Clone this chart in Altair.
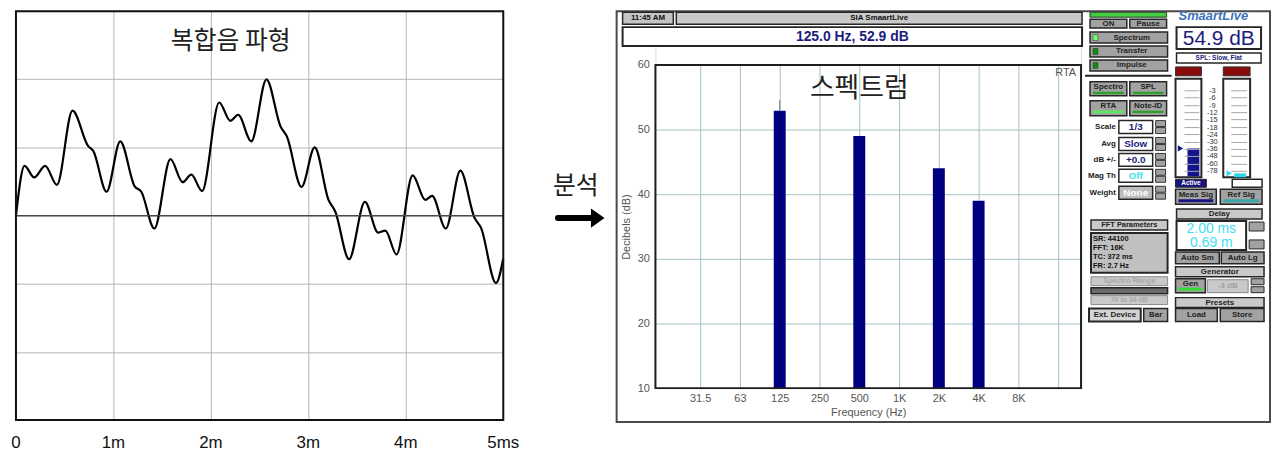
import json
import pandas as pd
import altair as alt

# ---------------- chart data ----------------
# composite waveform (time in ms, amplitude in grid divisions)
wave_t = [0.0, 0.088, 0.187, 0.30, 0.42, 0.58, 0.741, 0.793, 0.93, 1.07, 1.218, 1.286,
          1.42, 1.585, 1.71, 1.80, 1.91, 2.085, 2.20, 2.28, 2.415, 2.57, 2.714, 2.78,
          2.93, 3.065, 3.207, 3.276, 3.418, 3.58, 3.717, 3.79, 3.905, 4.07, 4.20, 4.27,
          4.41, 4.56, 4.704, 4.772, 4.925, 5.0]
wave_v = [0.0, 0.73, 0.56, 0.73, 0.45, 1.54, 1.02, 0.95, 0.35, 1.09, 0.43, 0.35,
          -0.19, 0.83, 0.49, 0.60, 0.36, 1.66, 1.39, 1.48, 1.09, 2.0, 1.31, 1.16,
          0.42, 1.0, 0.23, 0.06, -0.64, 0.20, -0.25, -0.22, -0.57, 0.59, 0.23, 0.29,
          -0.19, 0.66, -0.03, -0.18, -0.99, -0.63]
time_ticks = [0, 1, 2, 3, 4, 5]
time_labels = ["0", "1m", "2m", "3m", "4m", "5ms"]
amp_grid = [-2, -1, 0, 1, 2]

# spectrum (octave bands)
band_labels = ["31.5", "63", "125", "250", "500", "1K", "2K", "4K", "8K", ""]
bar_bands = ["125", "500", "2K", "4K"]
bar_db = [52.9, 49.0, 44.0, 39.0]
peak_band = "125"
peak_db = 54.6
db_ticks = [10, 20, 30, 40, 50, 60]

# meter scale of the SmaartLive panel
meter_labels = ["-3", "-6", "-9", "-12", "-15", "-18", "-24", "-30", "-36", "-48", "-60", "-78"]

KFONT = "Noto Sans CJK KR"
AFONT = "Liberation Sans"

# ---------------- left: waveform ----------------
W1, H1 = 490, 411
wave_df = pd.DataFrame({"t": wave_t, "v": wave_v})
t_expr = json.dumps(time_labels) + "[datum.value]"

xw = alt.X("t:Q", scale=alt.Scale(domain=[0, 5], nice=False, zero=False),
           axis=alt.Axis(values=[1, 2, 3, 4], title=None, ticks=False, domain=False, labels=False,
                         grid=True, gridColor="#b4b4b4", gridWidth=1))
yw = alt.Y("v:Q", scale=alt.Scale(domain=[-3, 3], nice=False, zero=False),
           axis=alt.Axis(values=amp_grid, title=None, ticks=False, domain=False, labels=False,
                         grid=True, gridColor="#b4b4b4", gridWidth=1))

wave_line = alt.Chart(wave_df).mark_line(color="black", strokeWidth=2.2, interpolate="monotone").encode(x=xw, y=yw)

zero_df = pd.DataFrame({"v": [0]})
zero_rule = alt.Chart(zero_df).mark_rule(color="#4a4a4a", strokeWidth=1.4).encode(y="v:Q")

tick_df = pd.DataFrame({"t": time_ticks, "lab": time_labels})
tick_labels = alt.Chart(tick_df).mark_text(font=AFONT, fontSize=17, color="#111", baseline="middle").encode(
    x="t:Q", y=alt.value(H1 + 23), text="lab:N")

frame1 = alt.Chart(pd.DataFrame({"a": [0]})).mark_rect(fill="transparent", stroke="#111", strokeWidth=2).encode(
    x=alt.value(0), x2=alt.value(W1), y=alt.value(0), y2=alt.value(H1))

title1 = alt.Chart(pd.DataFrame({"s": ["복합음 파형"]})).mark_text(
    font=KFONT, fontSize=25, color="#222", baseline="middle").encode(
    text="s:N", x=alt.value(216), y=alt.value(30))

# arrow + "분석"
an_txt = alt.Chart(pd.DataFrame({"s": ["분석"]})).mark_text(
    font=KFONT, fontSize=25, color="#222", baseline="middle").encode(
    text="s:N", x=alt.value(563), y=alt.value(176))
arrow_shaft = alt.Chart(pd.DataFrame({"a": [0]})).mark_rule(color="black", strokeWidth=6, strokeCap="round").encode(
    x=alt.value(545), x2=alt.value(581), y=alt.value(208))
arrow_head = alt.Chart(pd.DataFrame({"a": [0]})).mark_point(
    shape="M-0.7,-1L0.7,0L-0.7,1Z", filled=True, color="black", opacity=1, size=380).encode(
    x=alt.value(585), y=alt.value(208))

left = alt.layer(wave_line, zero_rule, frame1, tick_labels, title1, an_txt, arrow_shaft, arrow_head).properties(
    width=W1, height=H1)

# ---------------- right: spectrum ----------------
W2, H2 = 428, 325
pos_of = {b: i + 1 for i, b in enumerate(band_labels) if b}
bars_df = pd.DataFrame({"band": bar_bands, "pos": [pos_of[b] for b in bar_bands], "db": bar_db})
b_expr = json.dumps(band_labels) + "[datum.value - 1]"

xb = alt.X("pos:Q", scale=alt.Scale(domain=[0, 10.45], nice=False, zero=False),
           axis=alt.Axis(values=list(range(1, len(band_labels) + 1)), labelExpr=b_expr, title="Frequency (Hz)",
                         ticks=False, domain=False, grid=True, gridColor="#a3c4c4", gridWidth=1,
                         labelFont=AFONT, labelFontSize=11, labelColor="#555", labelPadding=4,
                         labelFlush=False, labelOverlap=False,
                         titleFont=AFONT, titleFontSize=11, titleFontWeight="normal", titleColor="#555",
                         titlePadding=4))
yb = alt.Y("db:Q", scale=alt.Scale(domain=[10, 60], nice=False, zero=False),
           axis=alt.Axis(values=db_ticks, title="Decibels (dB)", ticks=False, domain=False, grid=True,
                         gridColor="#a3c4c4", gridWidth=1, labelFont=AFONT, labelFontSize=11,
                         labelColor="#555", labelPadding=6, labelFlush=False,
                         titleFont=AFONT, titleFontSize=11, titleFontWeight="normal", titleColor="#555",
                         titlePadding=6))

bars = alt.Chart(bars_df).mark_bar(size=12, color="#000080").encode(x=xb, y=yb, y2=alt.datum(10))
peak_df = pd.DataFrame({"pos": [pos_of[peak_band]], "lo": [bar_db[bar_bands.index(peak_band)]], "hi": [peak_db]})
peak = alt.Chart(peak_df).mark_rule(color="#777", strokeWidth=1).encode(x="pos:Q", y="lo:Q", y2="hi:Q")
frame2 = alt.Chart(pd.DataFrame({"a": [0]})).mark_rect(fill="transparent", stroke="#1e1e1e", strokeWidth=2).encode(
    x=alt.value(0), x2=alt.value(W2), y=alt.value(0), y2=alt.value(H2))
rta = alt.Chart(pd.DataFrame({"s": ["RTA"]})).mark_text(font=AFONT, fontSize=11, color="#555", align="right",
                                                        baseline="middle").encode(
    text="s:N", x=alt.value(423), y=alt.value(8))
title2 = alt.Chart(pd.DataFrame({"s": ["스펙트럼"]})).mark_text(
    font=KFONT, fontSize=27, color="#222", baseline="middle").encode(
    text="s:N", x=alt.value(205), y=alt.value(24))

spectrum = alt.layer(bars, peak, frame2, rta, title2).properties(width=W2, height=H2)

# ---------------- SmaartLive window chrome (screen layout, page pixels) ----------------
OX, OY = 658, 8
GRAY, LIGHT, DARK = "#a2a2a2", "#c9c9c9", "#262626"
boxes = [
    (619, 8, 1276, 421, "transparent", "#4a4a4a", 2),
    (625, 9, 676, 21, "#c4c4c4", DARK, 1.5),
    (679, 9, 1087, 21, LIGHT, DARK, 1.5),
    (625, 24, 1087, 43, "white", DARK, 2),
    (1095, 9, 1172, 14, "#3fcf3f", "#333", 1),
    (1095, 16, 1132, 25, GRAY, DARK, 1.5), (1135, 16, 1172, 25, GRAY, DARK, 1.5),
    (1095, 29, 1173, 40, GRAY, DARK, 1.5), (1098, 31.5, 1103, 37.5, "#6cff6c", "#333", 0.5),
    (1095, 43, 1173, 54, GRAY, DARK, 1.5), (1098, 45.5, 1103, 51.5, "#118a11", "#333", 0.5),
    (1095, 57, 1173, 68, GRAY, DARK, 1.5), (1098, 59.5, 1103, 65.5, "#118a11", "#333", 0.5),
    (1095, 79, 1132, 93, GRAY, DARK, 1.5), (1098, 89, 1129, 91.5, "#2f9f2f", "transparent", 0),
    (1135, 79, 1172, 93, GRAY, DARK, 1.5), (1138, 89, 1169, 91.5, "#2f9f2f", "transparent", 0),
    (1095, 98, 1132, 113, GRAY, DARK, 1.5), (1098, 108, 1129, 110.5, "#55ee55", "transparent", 0),
    (1135, 98, 1172, 113, GRAY, DARK, 1.5), (1138, 108, 1169, 110.5, "#2f9f2f", "transparent", 0),
    (1182, 24, 1267, 46, "white", DARK, 2),
    (1182, 50, 1267, 60, "white", DARK, 1.5),
    (1181, 64, 1207, 73, "#8a0a0a", "#333", 1), (1229, 64, 1256, 73, "#8a0a0a", "#333", 1),
    (1181, 76, 1207, 175, "white", DARK, 2), (1229, 76, 1256, 175, "white", DARK, 2),
    (1193, 146, 1205, 174, "#14148c", "transparent", 0),
    (1240, 171, 1252, 175, "#33d6e6", "transparent", 0),
    (1181, 177, 1212, 185, "#16167e", DARK, 1), (1238, 177, 1268, 185, "white", DARK, 1.5),
    (1181, 187, 1222, 202, GRAY, DARK, 1.5), (1184, 197, 1219, 200, "#16167e", "transparent", 0),
    (1226, 187, 1268, 202, GRAY, DARK, 1.5), (1229, 197, 1265, 200, "#3aa8a8", "transparent", 0),
    (1182, 207, 1268, 217, LIGHT, DARK, 1.5),
    (1096, 218, 1173, 228, LIGHT, DARK, 1.5),
    (1096, 231, 1173, 271, "#c0c0c0", DARK, 2),
    (1096, 275, 1173, 284, LIGHT, "#888", 1),
    (1096, 286, 1173, 292, "#6a6a6a", DARK, 1.5),
    (1096, 294, 1173, 303, LIGHT, "#888", 1),
    (1094, 307, 1146, 320, "#d4d4d4", DARK, 2), (1149, 307, 1173, 320, GRAY, DARK, 1.5),
    (1182, 219, 1252, 248, "white", DARK, 2),
    (1255, 220, 1270, 229, GRAY, DARK, 1), (1255, 238, 1270, 247, GRAY, DARK, 1),
    (1181, 250, 1225, 262, GRAY, DARK, 1.5), (1227, 250, 1270, 262, GRAY, DARK, 1.5),
    (1181, 265, 1270, 275, LIGHT, DARK, 1.5),
    (1181, 277, 1211, 291, GRAY, DARK, 1.5), (1184, 286, 1208, 289, "#33dd33", "transparent", 0),
    (1213, 278, 1254, 291, LIGHT, "#888", 1),
    (1257, 277, 1270, 283, GRAY, DARK, 1), (1257, 285, 1270, 291, GRAY, DARK, 1),
    (1181, 296, 1270, 306, LIGHT, DARK, 1.5),
    (1181, 307, 1223, 320, GRAY, DARK, 1.5), (1226, 307, 1270, 320, GRAY, DARK, 1.5),
]
row_ys = [118, 135, 151, 167, 184]
row_fill = ["white", "white", "white", "white", "#bdbdbd"]
for ry, rf in zip(row_ys, row_fill):
    boxes.append((1124, ry, 1158, ry + 13, rf, DARK, 1.5))
    boxes.append((1161, ry, 1171, ry + 6, GRAY, "#333", 1))
    boxes.append((1161, ry + 7, 1171, ry + 13, GRAY, "#333", 1))

meter_ys = [88, 95, 103, 110, 117, 125, 132, 140, 147, 154, 162, 169]
lines = [(1090, 73, 1177, 73, "#222", 2)]
for my in meter_ys:
    lines.append((1190, my, 1205, my, "#a8a8a8", 1))
    lines.append((1237, my, 1253, my, "#a8a8a8", 1))

bold_center = [
    ("11:45 AM", 650.5, 15, "#111", 8), ("SIA SmaartLive", 883, 15, "#111", 8),
    ("125.0 Hz, 52.9 dB", 856, 33.5, "#1c1c7c", 14),
    ("ON", 1113.5, 20.5, "#222", 8), ("Pause", 1153.5, 20.5, "#222", 8),
    ("Spectrum", 1137, 34.5, "#222", 8), ("Transfer", 1137, 48.5, "#222", 8), ("Impulse", 1137, 62.5, "#222", 8),
    ("Spectro", 1113.5, 84, "#222", 8), ("SPL", 1153.5, 84, "#222", 8),
    ("RTA", 1113.5, 103, "#222", 8), ("Note-ID", 1153.5, 103, "#222", 8),
    ("1/3", 1141, 124.5, "#1c1c7c", 10), ("Slow", 1141, 141.5, "#1c1c7c", 10),
    ("+0.0", 1141, 157.5, "#1c1c7c", 10), ("Off", 1141, 173.5, "#3fe0f0", 10),
    ("None", 1141, 190.5, "white", 10),
    ("SPL:  Slow, Flat", 1224.5, 55, "#1c1c7c", 6.5),
    ("Active", 1196.5, 181, "white", 6.5),
    ("Meas Sig", 1201.5, 192.5, "#222", 8), ("Ref Sig", 1247, 192.5, "#222", 8),
    ("Delay", 1225, 212, "#222", 8), ("FFT Parameters", 1134.5, 223, "#222", 7.5),
    ("Spectro Range", 1134.5, 279.5, "#a8a8a8", 7.5), ("70 to 34 dB", 1134.5, 298.5, "#a8a8a8", 7),
    ("Ext. Device", 1120, 313.5, "#222", 8), ("Bar", 1161, 313.5, "#222", 8),
    ("Auto Sm", 1203, 256, "#222", 8), ("Auto Lg", 1248.5, 256, "#222", 8),
    ("Generator", 1225.5, 270, "#222", 8), ("Gen", 1196, 282, "#222", 8),
    ("-3 dB", 1233.5, 284.5, "#a0a0a0", 8),
    ("Presets", 1225.5, 301, "#222", 8), ("Load", 1202, 313.5, "#222", 8), ("Store", 1248, 313.5, "#222", 8),
]
normal_center = [("54.9 dB", 1224.5, 35.5, "#1c1c7c", 21),
                 ("2.00 ms", 1217, 227, "#3fe0f0", 14), ("0.69 m", 1217, 241, "#3fe0f0", 14)]
normal_center += [(lab, 1218, my, "#333", 7.5) for lab, my in zip(meter_labels, meter_ys)]
bold_right = [("Scale", 1121, 124.5, "#222", 8), ("Avg", 1121, 141.5, "#222", 8),
              ("dB +/-", 1121, 157.5, "#222", 8), ("Mag Th", 1121, 173.5, "#222", 8),
              ("Weight", 1121, 190.5, "#222", 8)]
bold_left = [("SR: 44100", 1098, 237, "#111", 7.5), ("FFT: 16K", 1098, 246, "#111", 7.5),
             ("TC: 372 ms", 1098, 255, "#111", 7.5), ("FR: 2.7 Hz", 1098, 264, "#111", 7.5)]
logo = [("SmaartLive", 1219, 13, "#3d72b8", 13)]
markers = [(1186, 146, "#14148c"), (1235, 171, "#33d6e6")]


def box_layer(items):
    df = pd.DataFrame(items, columns=["x1", "y1", "x2", "y2", "fill", "stroke", "sw"])
    df["x1"] -= OX; df["x2"] -= OX; df["y1"] -= OY; df["y2"] -= OY
    return alt.Chart(df).mark_rect().encode(
        x=alt.X("x1:Q", scale=None), x2="x2:Q", y=alt.Y("y1:Q", scale=None), y2="y2:Q",
        fill=alt.Fill("fill:N", scale=None), stroke=alt.Stroke("stroke:N", scale=None),
        strokeWidth=alt.StrokeWidth("sw:Q", scale=None))


def line_layer(items):
    df = pd.DataFrame(items, columns=["x1", "y1", "x2", "y2", "color", "sw"])
    df["x1"] -= OX; df["x2"] -= OX; df["y1"] -= OY; df["y2"] -= OY
    return alt.Chart(df).mark_rule().encode(
        x=alt.X("x1:Q", scale=None), x2="x2:Q", y=alt.Y("y1:Q", scale=None), y2="y2:Q",
        color=alt.Color("color:N", scale=None), strokeWidth=alt.StrokeWidth("sw:Q", scale=None))


def text_layer(items, align="center", weight="bold", style="normal"):
    df = pd.DataFrame(items, columns=["txt", "x", "y", "color", "size"])
    df["x"] -= OX; df["y"] -= OY
    return alt.Chart(df).mark_text(align=align, baseline="middle", fontWeight=weight, fontStyle=style,
                                   font=AFONT).encode(
        x=alt.X("x:Q", scale=None), y=alt.Y("y:Q", scale=None), text="txt:N",
        color=alt.Color("color:N", scale=None), size=alt.Size("size:Q", scale=None))


mk_df = pd.DataFrame(markers, columns=["x", "y", "color"])
mk_df["x"] -= OX; mk_df["y"] -= OY
marker_layer = alt.Chart(mk_df).mark_point(shape="triangle-right", filled=True, opacity=1, size=40).encode(
    x=alt.X("x:Q", scale=None), y=alt.Y("y:Q", scale=None), color=alt.Color("color:N", scale=None))

panel = alt.layer(
    box_layer(boxes), line_layer(lines), marker_layer,
    text_layer(bold_center), text_layer(normal_center, weight="normal"),
    text_layer(bold_right, align="right"), text_layer(bold_left, align="left"),
    text_layer(logo, weight="bold", style="italic"),
).properties(width=W2, height=62 - OY)

right = alt.vconcat(panel, spectrum, spacing=0, bounds="flush")

chart = alt.hconcat(left, right, spacing=658 - 15 - W1, bounds="flush").properties(
    padding={"left": 2, "top": 0, "right": 0, "bottom": 0}
).configure_view(stroke="transparent").configure(font=AFONT)

chart.save("out.html", embed_options={"renderer": "svg", "actions": False})
